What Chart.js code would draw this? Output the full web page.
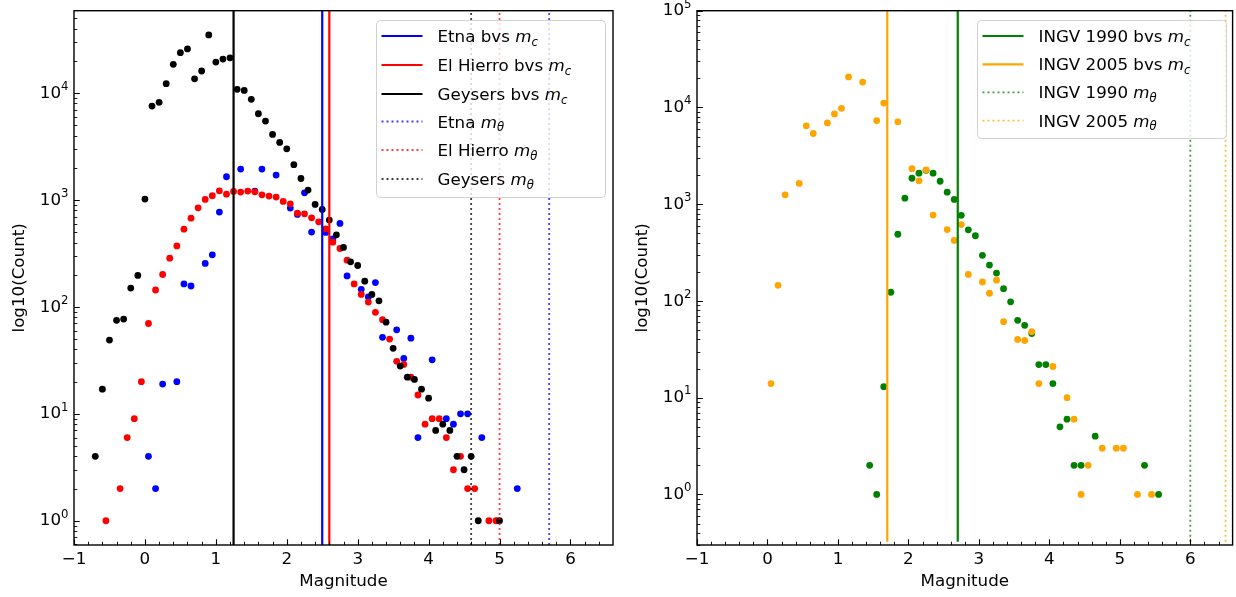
<!DOCTYPE html>
<html>
<head>
<meta charset="utf-8">
<script src="https://cdn.jsdelivr.net/npm/chart.js@4"></script>
<style>
  html, body { margin: 0; padding: 0; background: #fff; }
  #wrap { position: relative; width: 1236px; height: 597px; }
  #wrap canvas { position: absolute; top: 0; }
</style>
</head>
<body>
<div id="wrap">
  <canvas id="left" width="620" height="597" style="left:0"></canvas>
  <canvas id="right" width="616" height="597" style="left:620px"></canvas>
</div>
<script>
// ---- Left panel: Etna / El Hierro / Geysers ----
const etnaMag = [0.05, 0.15, 0.25, 0.45, 0.55, 0.65, 0.85, 0.95, 1.05, 1.15, 1.35, 1.55, 1.65, 1.85,
  2.05, 2.15, 2.25, 2.35, 2.55, 2.65, 2.75, 2.85, 3.05, 3.15, 3.25, 3.35, 3.55, 3.65, 3.75, 3.85,
  4.05, 4.25, 4.35, 4.45, 4.55, 4.75, 5.25];
const etnaCount = [4, 2, 19, 20, 164, 157, 255, 307, 771, 1650, 1946, 1212, 1946, 1710,
  840, 733, 1167, 501, 498, 433, 604, 195, 146, 124, 169, 52, 61, 33, 51, 6,
  32, 9, 8, 10, 10, 6, 2];

const hierroMag = [-0.55, -0.35, -0.25, -0.15, -0.05, 0.05, 0.15, 0.25, 0.35, 0.45, 0.55, 0.65, 0.75, 0.85, 0.95,
  1.05, 1.15, 1.25, 1.35, 1.45, 1.55, 1.65, 1.75, 1.85, 1.95, 2.05, 2.15, 2.25, 2.35, 2.45, 2.55, 2.65, 2.75, 2.85, 2.95,
  3.05, 3.15, 3.25, 3.35, 3.45, 3.55, 3.65, 3.75, 3.85, 3.95, 4.05, 4.15, 4.25, 4.35, 4.45, 4.55, 4.65, 4.85, 4.95];
const hierroCount = [1, 2, 6, 9, 20, 70, 144, 201, 286, 372, 534, 677, 846, 1013, 1096,
  1220, 1135, 1203, 1186, 1212, 1194, 1119, 1088, 1065, 970, 922, 754, 743, 681, 625, 537, 403, 352, 274, 164,
  131, 111, 89, 76, 50, 31, 29, 22, 15, 8, 9, 9, 6, 3, 4, 2, 2, 1, 1];

const geysersMag = [-0.7, -0.6, -0.5, -0.4, -0.3, -0.2, -0.1, 0.0, 0.1, 0.2, 0.3, 0.4, 0.5, 0.6, 0.7, 0.8, 0.9,
  1.0, 1.1, 1.2, 1.3, 1.4, 1.5, 1.6, 1.7, 1.8, 1.9, 2.0, 2.1, 2.2, 2.3, 2.4, 2.5, 2.6, 2.7, 2.8, 2.9,
  3.0, 3.1, 3.2, 3.3, 3.4, 3.5, 3.6, 3.7, 3.8, 3.9, 4.0, 4.1, 4.2, 4.3, 4.4, 4.5, 4.6, 4.7, 5.0];
const geysersCount = [4, 17, 49, 75, 77, 150, 197, 1020, 7570, 8200, 12250, 18600, 23900, 25900, 13600, 16100, 35000,
  19500, 20800, 21400, 10850, 10600, 8750, 6410, 5480, 4110, 3460, 3010, 2140, 1590, 1240, 910, 817, 649, 472, 360, 264,
  244, 174, 131, 114, 72, 41, 28, 22, 21, 17, 14, 7, 8, 7, 4, 3, 4, 1, 1];

// b-value-vs-mc (solid) and m_theta (dotted) per catalogue
const leftMc = [2.5, 2.6, 1.25];      // Etna, El Hierro, Geysers
const leftMtheta = [5.7, 5.0, 4.6];

// ---- Right panel: INGV 1990 / 2005 ----
const ingv1990Mag = [1.45, 1.55, 1.65, 1.75, 1.85, 1.95, 2.05, 2.15, 2.25, 2.35, 2.45, 2.55, 2.65, 2.75, 2.85, 2.95,
  3.05, 3.15, 3.25, 3.35, 3.45, 3.55, 3.65, 3.75, 3.85, 3.95, 4.05, 4.15, 4.25, 4.35, 4.45, 4.65, 5.35, 5.55];
const ingv1990Count = [2, 1, 13, 123, 489, 1155, 1855, 2090, 2240, 2090, 1727, 1330, 1120, 767, 543, 472,
  296, 235, 194, 134, 98, 63, 56, 46, 22, 22, 14, 5, 6, 2, 2, 4, 2, 1];

const ingv2005Mag = [0.05, 0.15, 0.25, 0.45, 0.55, 0.65, 0.85, 0.95, 1.05, 1.15, 1.35, 1.55, 1.65, 1.85,
  2.05, 2.15, 2.25, 2.35, 2.55, 2.65, 2.75, 2.85, 3.05, 3.15, 3.25, 3.35, 3.55, 3.65, 3.75, 3.85,
  4.05, 4.25, 4.35, 4.45, 4.55, 4.75, 4.95, 5.05, 5.25, 5.45];
const ingv2005Count = [14, 145, 1250, 1640, 6460, 5380, 6920, 8580, 9790, 20700, 18300, 7310, 11100, 7100,
  2330, 1745, 2265, 772, 547, 422, 615, 188, 157, 120, 164, 61, 40, 39, 48, 14,
  21, 10, 6, 1, 2, 3, 3, 3, 1, 1];

const rightMc = [2.7, 1.7];           // 1990, 2005
const rightMtheta = [6.0, 6.5];

// axes
const xRange = [-1, 6.6];
const xTickLabels = [-1, 0, 1, 2, 3, 4, 5, 6];
const leftYRange = [0.593, 59000];
const rightYRange = [0.324, 100000];
const leftYDecades = [0, 1, 2, 3, 4];
const rightYDecades = [0, 1, 2, 3, 4, 5];

const FAMILY = '"DejaVu Sans", sans-serif';
const FS = 16.7;

const toPts = (xs, ys) => xs.map((x, i) => ({ x, y: ys[i] }));

function scatterSet(label, xs, ys, color, order) {
  return {
    type: 'scatter', label, data: toPts(xs, ys), order,
    backgroundColor: color, borderWidth: 0, pointRadius: 3.4, pointHoverRadius: 3.4
  };
}

function vline(label, sub, x, yr, color, dotted) {
  return {
    type: 'line', label, sub, dotted,
    data: [{ x, y: yr[0] }, { x, y: yr[1] }],
    borderColor: dotted ? Chart.helpers.color(color).alpha(0.75).rgbString() : color,
    borderWidth: dotted ? 1.8 : 2.2,
    borderDash: dotted ? [2, 3] : [],
    pointRadius: 0, order: 0, fill: false
  };
}

function drawSupTen(ctx, exp, right, y) {
  const big = FS + 'px ' + FAMILY, small = (FS * 0.7) + 'px ' + FAMILY;
  ctx.font = small;
  const we = ctx.measureText(String(exp)).width;
  ctx.font = big;
  const wb = ctx.measureText('10').width;
  ctx.textAlign = 'left';
  ctx.textBaseline = 'alphabetic';
  ctx.fillText('10', right - we - wb, y + 4.6);
  ctx.font = small;
  ctx.fillText(String(exp), right - we, y - 3.2);
}

function drawLegend(ctx, lg, sets) {
  ctx.save();
  const r = 4;
  ctx.beginPath();
  ctx.moveTo(lg.x + r, lg.y);
  ctx.arcTo(lg.x + lg.w, lg.y, lg.x + lg.w, lg.y + lg.h, r);
  ctx.arcTo(lg.x + lg.w, lg.y + lg.h, lg.x, lg.y + lg.h, r);
  ctx.arcTo(lg.x, lg.y + lg.h, lg.x, lg.y, r);
  ctx.arcTo(lg.x, lg.y, lg.x + lg.w, lg.y, r);
  ctx.closePath();
  ctx.fillStyle = 'rgba(255,255,255,0.8)';
  ctx.fill();
  ctx.strokeStyle = 'rgba(204,204,204,0.9)';
  ctx.lineWidth = 1;
  ctx.stroke();

  sets.forEach((ds, i) => {
    const cy = lg.rows[i];
    ctx.beginPath();
    ctx.strokeStyle = ds.borderColor;
    ctx.lineWidth = ds.borderWidth;
    ctx.setLineDash(ds.borderDash);
    ctx.moveTo(lg.x + 5, cy);
    ctx.lineTo(lg.x + 46, cy);
    ctx.stroke();
    ctx.setLineDash([]);

    const base = cy + 6.1;
    let tx = lg.x + 61;
    ctx.fillStyle = '#000';
    ctx.textAlign = 'left';
    ctx.textBaseline = 'alphabetic';
    ctx.font = FS + 'px ' + FAMILY;
    ctx.fillText(ds.label + ' ', tx, base);
    tx += ctx.measureText(ds.label + ' ').width;
    ctx.font = 'italic ' + FS + 'px ' + FAMILY;
    ctx.fillText('m', tx, base);
    tx += ctx.measureText('m').width;
    ctx.font = 'italic ' + (FS * 0.7) + 'px ' + FAMILY;
    ctx.fillText(ds.sub, tx, base + 3.6);
  });
  ctx.restore();
}

function framePlugin(cfg) {
  return {
    id: 'mplFrame',
    afterDraw(chart) {
      const ctx = chart.ctx, a = chart.chartArea;
      const xs = chart.scales.x, ys = chart.scales.y;
      ctx.save();
      ctx.strokeStyle = '#000';
      ctx.fillStyle = '#000';

      // x ticks (inward)
      ctx.lineWidth = 1.1;
      ctx.beginPath();
      xTickLabels.forEach(v => {
        const px = Math.round(xs.getPixelForValue(v)) + 0.5;
        ctx.moveTo(px, a.bottom); ctx.lineTo(px, a.bottom - 5.8);
      });
      ctx.stroke();
      ctx.lineWidth = 0.9;
      ctx.beginPath();
      for (let k = -4; k <= 33; k++) {
        const v = k * 0.2;
        if (k % 5 === 0 || v < xRange[0] || v > xRange[1]) continue;
        const px = Math.round(xs.getPixelForValue(v)) + 0.5;
        ctx.moveTo(px, a.bottom); ctx.lineTo(px, a.bottom - 3.3);
      }
      ctx.stroke();

      // y ticks (inward, log)
      ctx.lineWidth = 1.1;
      ctx.beginPath();
      cfg.decades.forEach(d => {
        const py = Math.round(ys.getPixelForValue(Math.pow(10, d))) + 0.5;
        ctx.moveTo(a.left, py); ctx.lineTo(a.left + 5.8, py);
      });
      ctx.stroke();
      ctx.lineWidth = 0.9;
      ctx.beginPath();
      for (let d = -1; d <= 5; d++) {
        for (let m = 2; m <= 9; m++) {
          const v = m * Math.pow(10, d);
          if (v < ys.min || v > ys.max) continue;
          const py = Math.round(ys.getPixelForValue(v)) + 0.5;
          ctx.moveTo(a.left, py); ctx.lineTo(a.left + 3.3, py);
        }
      }
      ctx.stroke();

      // spines
      ctx.lineWidth = 1.4;
      ctx.strokeRect(a.left, a.top, a.right - a.left, a.bottom - a.top);

      // tick labels
      ctx.font = FS + 'px ' + FAMILY;
      ctx.textAlign = 'center';
      ctx.textBaseline = 'alphabetic';
      xTickLabels.forEach(v => {
        const px = xs.getPixelForValue(v);
        ctx.fillText(v < 0 ? '\u2212' + Math.abs(v) : String(v), px, a.bottom + 18.5);
      });
      cfg.decades.forEach(d => {
        const py = ys.getPixelForValue(Math.pow(10, d));
        drawSupTen(ctx, d, a.left - 5.5, py);
      });

      // axis titles
      ctx.font = FS + 'px ' + FAMILY;
      ctx.textAlign = 'center';
      ctx.fillText('Magnitude', (a.left + a.right) / 2, a.bottom + 41);
      ctx.save();
      ctx.translate(cfg.yTitleX, (a.top + a.bottom) / 2);
      ctx.rotate(-Math.PI / 2);
      ctx.textBaseline = 'middle';
      ctx.fillText('log10(Count)', 0, 0);
      ctx.restore();

      // legend
      const lineSets = chart.data.datasets.filter(ds => ds.type === 'line');
      drawLegend(ctx, cfg.legend, lineSets);
      ctx.restore();
    }
  };
}

function makeChart(id, datasets, yr, cfg) {
  return new Chart(document.getElementById(id), {
    type: 'scatter',
    data: { datasets },
    options: {
      responsive: false,
      animation: false,
      devicePixelRatio: 1,
      layout: { padding: { top: 10.7, right: cfg.padRight, left: 0, bottom: 0 } },
      plugins: { legend: { display: false }, tooltip: { enabled: false } },
      scales: {
        x: {
          type: 'linear', min: xRange[0], max: xRange[1],
          grid: { display: false }, border: { display: false }, ticks: { display: false },
          afterFit: s => { s.height = 52; }
        },
        y: {
          type: 'logarithmic', min: yr[0], max: yr[1],
          grid: { display: false }, border: { display: false }, ticks: { display: false },
          afterFit: s => { s.width = cfg.yWidth; }
        }
      }
    },
    plugins: [framePlugin(cfg)]
  });
}

makeChart('left', [
  vline('Etna bvs', 'c', leftMc[0], leftYRange, '#0000ff', false),
  vline('El Hierro bvs', 'c', leftMc[1], leftYRange, '#ff0000', false),
  vline('Geysers bvs', 'c', leftMc[2], leftYRange, '#000000', false),
  vline('Etna', '\u03b8', leftMtheta[0], leftYRange, '#0000ff', true),
  vline('El Hierro', '\u03b8', leftMtheta[1], leftYRange, '#ff0000', true),
  vline('Geysers', '\u03b8', leftMtheta[2], leftYRange, '#000000', true),
  scatterSet('Geysers', geysersMag, geysersCount, '#000000', 1),
  scatterSet('El Hierro', hierroMag, hierroCount, '#ff0000', 2),
  scatterSet('Etna', etnaMag, etnaCount, '#0000ff', 3)
], leftYRange, {
  padRight: 7, yWidth: 74, yTitleX: 20, decades: leftYDecades,
  legend: { x: 376.5, y: 20.5, w: 229, h: 177, rows: [36, 65, 94, 121.5, 150, 179] }
});

makeChart('right', [
  vline('INGV 1990 bvs', 'c', rightMc[0], rightYRange, '#008000', false),
  vline('INGV 2005 bvs', 'c', rightMc[1], rightYRange, '#ffa500', false),
  vline('INGV 1990', '\u03b8', rightMtheta[0], rightYRange, '#008000', true),
  vline('INGV 2005', '\u03b8', rightMtheta[1], rightYRange, '#ffa500', true),
  scatterSet('INGV 2005', ingv2005Mag, ingv2005Count, '#ffa500', 1),
  scatterSet('INGV 1990', ingv1990Mag, ingv1990Count, '#008000', 2)
], rightYRange, {
  padRight: 2, yWidth: 77, yTitleX: 23, decades: rightYDecades,
  legend: { x: 357.5, y: 20.5, w: 249, h: 118, rows: [36, 64.3, 92.3, 120.7] }
});
</script>
</body>
</html>
